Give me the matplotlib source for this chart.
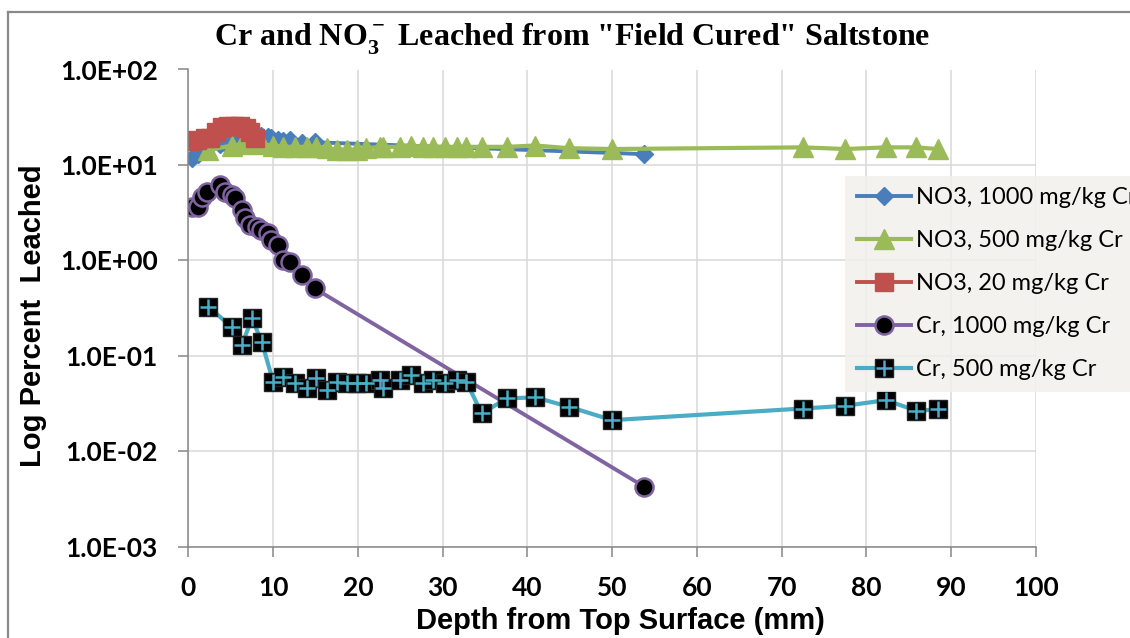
import matplotlib
matplotlib.use("Agg")
import matplotlib.pyplot as plt
from matplotlib.lines import Line2D
from matplotlib.legend_handler import HandlerTuple

# depths (mm) and percent leached
cr1000_depth = [0.4, 1.1, 1.6, 2.2, 3.7, 4.3, 5.1, 5.5, 6.3, 6.7, 7.3, 8.1, 8.6, 9.4, 9.8, 10.6, 11.2, 12.0, 13.4, 14.9, 53.8]
cr1000 = [3.65, 3.65, 4.64, 5.23, 6.16, 5.23, 4.84, 4.47, 3.37, 2.76, 2.35, 2.26, 2.08, 1.92, 1.64, 1.45, 1.01, 0.97, 0.70, 0.51, 0.00427]
no3_1000 = [11.8, 13.0, 14.0, 15.0, 16.5, 17.0, 17.5, 18.0, 18.5, 19.0, 19.5, 20.0, 20.3, 19.8, 19.0, 18.2, 18.0, 18.2, 17.0, 17.3, 13.0]

cr500_depth = [2.35, 5.1, 6.3, 7.5, 8.65, 10.0, 11.2, 12.6, 14.0, 15.1, 16.3, 17.5, 18.7, 19.9, 21.0, 22.6, 23.0,
               25.0, 26.3, 27.7, 28.9, 30.3, 31.7, 32.8, 34.6, 37.6, 40.9, 44.9, 50.0, 72.5, 77.5, 82.3, 85.9, 88.4]
cr500 = [0.327, 0.202, 0.130, 0.248, 0.141, 0.0537, 0.0606, 0.0516, 0.0458, 0.0582, 0.0439, 0.0537, 0.0516, 0.0516,
         0.0516, 0.056, 0.0458, 0.056, 0.0633, 0.0516, 0.056, 0.0516, 0.056, 0.0537, 0.0251, 0.036, 0.0369, 0.0294,
         0.0213, 0.0282, 0.0301, 0.0345, 0.0267, 0.0276]
no3_500 = [14.3, 16.0, 16.5, 17.0, 16.5, 16.0, 15.5, 15.5, 15.5, 15.5, 15.0, 14.5, 14.5, 14.5, 15.0, 15.5, 15.5,
           15.5, 16.0, 15.5, 15.5, 15.5, 15.5, 15.5, 15.5, 15.5, 16.0, 15.0, 14.7, 15.3, 14.7, 15.3, 15.3, 14.7]

no3_20_depth = [0.3, 1.0, 1.9, 2.6, 3.2, 4.0, 4.7, 5.4, 6.1, 6.8, 7.3, 7.8]
no3_20 = [17.9, 18.2, 19.4, 19.4, 21.9, 24.8, 25.7, 25.7, 25.7, 24.5, 22.0, 19.0]

labels = ["NO3, 1000 mg/kg Cr", "NO3, 500 mg/kg Cr", "NO3, 20 mg/kg Cr", "Cr, 1000 mg/kg Cr", "Cr, 500 mg/kg Cr"]
yticks = [1e-3, 1e-2, 1e-1, 1e0, 1e1, 1e2]
ytick_labels = ["1.0E-03", "1.0E-02", "1.0E-01", "1.0E+00", "1.0E+01", "1.0E+02"]

W, H = 1130, 638
fig = plt.figure(figsize=(W / 100, H / 100), dpi=100)
ax = fig.add_axes([188.4 / W, 1 - 547 / H, (1036 - 188.4) / W, (547 - 69.5) / H])

blue, green, red, purple, cyan = "#4A7EBB", "#9BBB59", "#C0504D", "#8064A2", "#4BACC6"

h1, = ax.plot(cr1000_depth, no3_1000, color=blue, lw=2.8, marker="D", ms=9, mfc=blue, mec=blue)
h2, = ax.plot(cr500_depth, no3_500, color=green, lw=3, marker="^", ms=15, mfc=green, mec=green)
h3, = ax.plot(no3_20_depth, no3_20, color=red, lw=2.8, marker="s", ms=13, mfc=red, mec=red)
h4, = ax.plot(cr1000_depth, cr1000, color=purple, lw=2.8, marker="o", ms=13, mfc="black", mec=purple, mew=1.8)
h5, = ax.plot(cr500_depth, cr500, color=cyan, lw=3, marker="s", ms=12.5, mfc="black", mec="#222222", mew=1)
h5b, = ax.plot(cr500_depth, cr500, ls="none", marker="+", ms=11, mec=cyan, mew=1.8)

ax.set_yscale("log")
ax.set_ylim(1e-3, 1e2)
ax.set_xlim(0, 100)
ax.set_xticks(range(0, 101, 10))
ax.set_yticks(yticks)
ax.set_yticklabels(ytick_labels)
ax.minorticks_off()
ax.grid(True, color="#D9D9D9", lw=1.1)
ax.set_axisbelow(True)
for s in ["top", "right"]:
    ax.spines[s].set_visible(False)
for s in ["left", "bottom"]:
    ax.spines[s].set_color("#868686")
    ax.spines[s].set_linewidth(1.1)
ax.tick_params(axis="both", direction="out", length=7, width=1.1, color="#868686", labelsize=19)
ax.tick_params(axis="y", pad=15)
ax.tick_params(axis="x", pad=14)
for t in ax.get_xticklabels() + ax.get_yticklabels():
    t.set_fontfamily("Lato")
    t.set_fontweight("bold")

leg = fig.legend([h1, h2, h3, h4, (h5, h5b)], labels, loc="upper left",
                 bbox_to_anchor=(845 / W, 1 - 175.5 / H), prop={"family": "Lato", "size": 17},
                 handler_map={tuple: HandlerTuple(ndivide=1)}, handlelength=2.3, handletextpad=0.2,
                 labelspacing=0.93, borderpad=0.5, borderaxespad=0, fancybox=False, frameon=True)
leg.get_frame().set_facecolor("#F1F0EB")
leg.get_frame().set_alpha(0.85)
leg.get_frame().set_linewidth(0)

plt.rcParams["mathtext.fontset"] = "custom"
plt.rcParams["mathtext.rm"] = "Liberation Serif:bold"
plt.rcParams["mathtext.bf"] = "Liberation Serif:bold"
fig.text(572 / W, 1 - 38 / H, r'Cr and NO$_3^-$ Leached from "Field Cured" Saltstone',
         ha="center", va="center", fontfamily="Liberation Serif", fontweight="bold", fontsize=23)
fig.text(620 / W, 1 - 621 / H, "Depth from Top Surface (mm)", ha="center", va="center",
         fontfamily="Liberation Sans", fontweight="bold", fontsize=21)
fig.text(33 / W, 1 - 316 / H, "Log Percent  Leached", ha="center", va="center", rotation=90,
         fontfamily="Liberation Sans", fontweight="bold", fontsize=21)

# outer chart border (cropped in the original)
fig.add_artist(Line2D([8 / W, 8 / W], [0, 1 - 12 / H], transform=fig.transFigure, color="#898989", lw=1.6))
fig.add_artist(Line2D([8 / W, 1], [1 - 12 / H, 1 - 12 / H], transform=fig.transFigure, color="#898989", lw=1.6))

fig.savefig("out.png", dpi=100)
